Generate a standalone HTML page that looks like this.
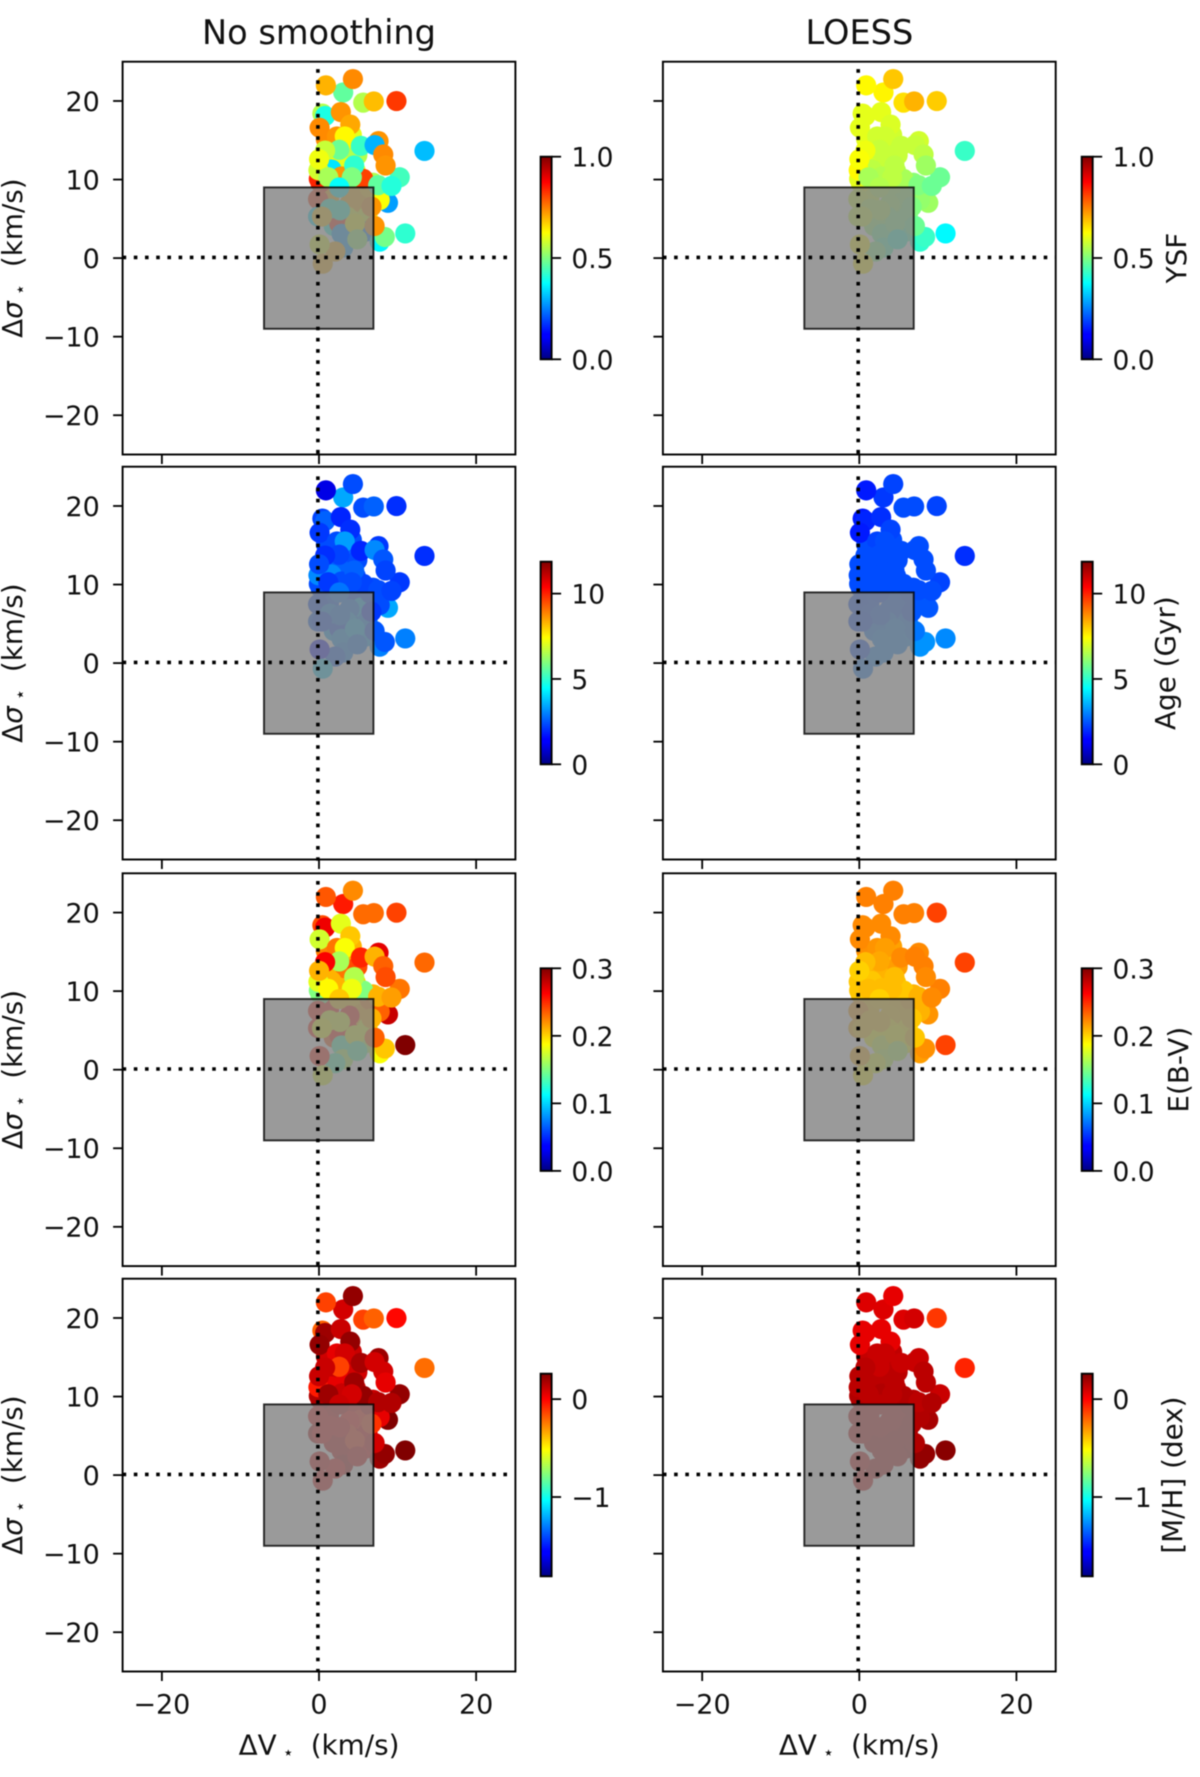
<!DOCTYPE html>
<html>
<head>
<meta charset="utf-8">
<title>Kinematic offset scatter panels</title>
<style>
html,body{margin:0;padding:0;background:#fff;}
#figure{display:block;width:1200px;height:1777px;filter:blur(0.55px);}
text{font-family:"DejaVu Sans","Liberation Sans",sans-serif;fill:#111;}
</style>
</head>
<body>
<svg id="figure" xmlns="http://www.w3.org/2000/svg" width="1200" height="1777" viewBox="0 0 1200 1777">
<defs>
<linearGradient id="jet" x1="0" y1="1" x2="0" y2="0">
<stop offset="0" stop-color="#000080"/>
<stop offset="0.11" stop-color="#0000ff"/>
<stop offset="0.125" stop-color="#0000ff"/>
<stop offset="0.375" stop-color="#00ffff"/>
<stop offset="0.625" stop-color="#ffff00"/>
<stop offset="0.875" stop-color="#ff0000"/>
<stop offset="1" stop-color="#800000"/>
</linearGradient>
</defs>
<text x="319" y="44" text-anchor="middle" font-size="33.6">No smoothing</text>
<text x="859.4" y="44" text-anchor="middle" font-size="33.6">LOESS</text>
<g id="plots"></g>
</svg>
<script>
// Shared point coordinates (km/s)
const deltaV = [3.6,1.0,2.0,3.2,4.8,7.0,2.0,5.0,4.3,1.8,3.5,5.0,1.7,3.0,4.5,1.0,5.5,4.0,6.3,1.4,3.7,0.1,0.3,0.0,6.6,0.0,2.0,5.75,2.7,6.1,3.0,3.2,2.2,4.7,7.85,8.5,7.2,11.1,8.9,7.85,6.8,10.4,7.65,9.35,3.2,4.44,1.0,5.75,7.1,9.98,0.55,0.9,2.9,4.1,0.2,2.4,3.4,7.7,5.45,7.2,2.7,13.55,0.9,0.05,0.13,1.3,8.3,8.6,4.6,4.3,2.7,1.5,2.8,0.5,5.0,0.2,0.6];
const deltaSigma = [14.3,15.0,11.8,11.5,11.0,9.5,9.2,5.6,15.6,13.0,12.8,13.0,11.2,10.3,8.5,8.8,7.0,6.8,5.3,7.5,5.2,10.0,9.5,7.4,8.8,5.2,4.0,10.0,4.3,3.3,3.0,1.25,0.75,4.3,2.0,2.6,4.0,3.05,6.95,7.3,6.45,10.2,9.2,9.1,21.0,22.7,21.9,19.7,19.85,19.9,18.3,18.0,18.5,16.9,16.5,15.4,15.4,14.8,14.2,14.3,13.7,13.55,13.6,11.1,12.5,10.2,13.1,11.7,11.7,10.2,8.9,6.2,6.0,5.2,2.3,1.65,-0.8];

// Colour values per panel
const ysfRaw = [.63,.74,.6,.63,.6,.55,.7,.6,.6,.63,.60,.55,.35,.73,.7,.7,.7,.7,.6,.7,.6,.84,.84,.82,.68,.35,.4,.81,.84,.25,.28,.28,.7,.62,.37,.49,.73,.42,.28,.62,.73,.44,.47,.41,.47,.74,.7,.55,.69,.82,.55,.4,.73,.71,.74,.73,.63,.73,.43,.3,.48,.31,.57,.58,.61,.54,.74,.73,.42,.5,.38,.42,.42,.68,.52,.6,.7];
const ysfLoess = [.57,.6,.57,.56,.55,.51,.56,.5,.58,.58,.57,.57,.56,.55,.53,.57,.52,.53,.5,.57,.5,.6,.6,.58,.52,.57,.52,.54,.52,.45,.48,.45,.5,.5,.42,.43,.48,.37,.53,.52,.5,.48,.5,.48,.635,.68,.63,.655,.7,.675,.6,.6,.6,.59,.6,.58,.58,.58,.57,.57,.57,.43,.61,.63,.62,.54,.56,.53,.56,.56,.55,.55,.55,.58,.42,.63,.64];
const ageRaw = [2.61,2.37,2.37,2.61,2.37,2.37,2.61,2.85,2.37,2.61,2.61,2.37,3.09,2.37,2.37,2.37,3.56,2.85,3.09,2.61,3.32,2.37,2.37,2.37,2.37,2.61,3.32,2.26,2.37,3.32,3.2,2.97,2.61,3.56,2.97,2.49,2.49,2.97,3.44,2.37,2.14,2.14,2.37,2.26,3.44,2.37,1.19,2.37,2.61,2.02,2.26,2.61,1.9,2.02,2.14,2.37,3.32,2.14,1.9,3.09,2.26,2.02,2.02,3.09,2.37,2.14,2.49,2.26,2.61,2.37,2.85,3.09,2.85,2.37,2.85,1.66,3.92];
const ageLoess = [2.37,2.37,2.37,2.37,2.37,2.37,2.37,2.61,2.37,2.37,2.37,2.37,2.37,2.37,2.61,2.37,2.61,2.61,2.85,2.49,2.85,2.37,2.37,2.37,2.49,2.37,2.85,2.37,2.85,3.09,2.97,2.97,2.97,2.97,3.2,3.2,2.85,3.09,2.49,2.49,2.49,2.26,2.37,2.37,2.14,2.26,1.78,2.37,2.37,2.26,1.78,1.9,2.02,2.26,1.78,2.26,2.37,2.37,2.37,2.37,2.37,2.02,2.37,2.37,2.37,2.37,2.37,2.37,2.37,2.37,2.37,2.49,2.61,2.37,2.97,2.37,2.85];
const ebvRaw = [.21,.225,.19,.21,.2,.21,.2,.2,.21,.21,.228,.24,.21,.21,.204,.204,.21,.255,.18,.255,.255,.15,.15,.255,.225,.255,.24,.15,.255,.165,.135,.165,.135,.18,.186,.204,.234,.3,.279,.234,.21,.228,.21,.216,.255,.222,.237,.231,.231,.243,.24,.267,.18,.204,.174,.228,.186,.27,.252,.21,.162,.232,.264,.18,.21,.189,.234,.24,.165,.183,.204,.18,.18,.186,.138,.255,.18];
const ebvLoess = [.21,.22,.205,.205,.205,.21,.205,.19,.215,.21,.21,.216,.204,.207,.204,.204,.204,.201,.192,.204,.192,.204,.204,.216,.21,.21,.186,.204,.186,.186,.174,.168,.18,.186,.216,.22,.204,.243,.219,.21,.204,.225,.21,.222,.225,.225,.225,.225,.225,.243,.222,.222,.222,.222,.222,.219,.216,.222,.222,.225,.213,.243,.207,.204,.201,.207,.225,.222,.207,.207,.201,.204,.204,.204,.165,.21,.192];
const mhRaw = [.11,.1,.11,.11,.11,.11,.11,.1,.11,.11,.05,.09,.05,.11,.05,.11,-.05,-.02,.05,.09,-.08,.16,.16,.05,.11,.16,.11,.22,.11,.05,.11,.16,.05,-.08,.2,.22,.09,.26,.26,.05,-.1,.22,.16,.16,.09,.22,-.13,-.13,-.195,-.01,-.195,.2,.11,.22,.22,.05,.09,.2,.18,.09,-.13,-.22,.11,-.05,.11,.2,.09,.05,.2,.09,.11,.05,.05,.05,.09,.09,.09];
const mhLoess = [.13,.12,.14,.14,.14,.15,.14,.15,.13,.14,.14,.14,.14,.16,.14,.14,.14,.14,.16,.14,.14,.16,.16,.14,.16,.14,.16,.16,.16,.18,.16,.16,.16,.16,.22,.22,.16,.24,.18,.16,.16,.11,.14,.16,.07,.05,.07,.07,.09,-.11,.05,.05,.05,.05,.05,.11,.11,.11,.11,.11,.11,-.07,.14,.14,.14,.14,.14,.14,.14,.14,.14,.14,.14,.14,.16,.11,.11];

// Axis tick labels
const axisTicks = [-20,-10,0,10,20];
const xAxisTicks = [-20,0,20];

// Colour ranges and colourbar ticks per row
const rowNames = ['ysf','age','ebv','mh'];
const rowMin = [0,0,0,-1.81];
const rowMax = [1,11.87,0.3,0.26];
const rowBarTicks = [[0,0.5,1],[0,5,10],[0,0.1,0.2,0.3],[-1,0]];
const rowBarLabels = [['0.0','0.5','1.0'],['0','5','10'],['0.0','0.1','0.2','0.3'],['\u22121','0']];
const rowTitles = ['YSF','Age (Gyr)','E(B-V)','[M/H] (dex)'];
const rowValues = [[ysfRaw,ysfLoess],[ageRaw,ageLoess],[ebvRaw,ebvLoess],[mhRaw,mhLoess]];

// Layout
const panelTops = [61.7,466.7,873.3,1278.7];
const colLefts = [122.6,662.9];
const barLefts = [540.6,1081.7];
const colNames = ['raw','loess'];
const rowTitleX = [1177,1166,1179,1173];
const vDotStart = [7.4,9.7,7.7,9.4];
const PW = 392.8;
const SCALE = PW / 50;
const SVGNS = 'http://www.w3.org/2000/svg';
const plots = document.getElementById('plots');

function mk(tag, parent, attrs) {
  const el = document.createElementNS(SVGNS, tag);
  for (const k in attrs) el.setAttribute(k, attrs[k]);
  parent.appendChild(el);
  return el;
}
function jet(t) {
  t = Math.max(0, Math.min(1, t));
  const clip = v => Math.round(255 * Math.max(0, Math.min(1, v)));
  const r = Math.min(4 * t - 1.5, -4 * t + 4.5);
  const g = Math.min(4 * t - 0.5, -4 * t + 3.5);
  const b = Math.min(4 * t + 0.5, -4 * t + 2.5);
  return 'rgb(' + clip(r) + ',' + clip(g) + ',' + clip(b) + ')';
}

rowNames.forEach(function (rowName, r) {
  colNames.forEach(function (colName, c) {
    const L = colLefts[c], T = panelTops[r];
    const xScale = v => L + PW / 2 + v * SCALE;
    const yScale = v => T + PW / 2 - v * SCALE;
    const prefix = rowName + '-' + colName;
    const g = mk('g', plots, {});
    
    

    // scatter points
    const vals = rowValues[r][c];
    const pts = mk('g', g, {});
    
    
    deltaV.forEach(function (dv, i) {
      const t = (vals[i] - rowMin[r]) / (rowMax[r] - rowMin[r]);
      const pt = mk('circle', pts, {cx: xScale(dv) - 0.95, cy: yScale(deltaSigma[i]) - 0.7, r: 10.1, fill: jet(t)});
      
      
    });

    // grey box
    const box = mk('rect', g, {x: xScale(-7), y: yScale(9), width: xScale(6.93) - xScale(-7), height: 18 * SCALE,
      fill: '#868686', 'fill-opacity': 0.83, stroke: '#000', 'stroke-opacity': 0.8, 'stroke-width': 1.9});
    
    

    // dotted reference lines
    const hl = mk('line', g, {x1: L, x2: L + PW, y1: yScale(0) - 0.7, y2: yScale(0) - 0.7,
      stroke: '#000', 'stroke-width': 3.6, 'stroke-dasharray': '3.6 7.6'});
    
    
    const vl = mk('line', g, {x1: xScale(0) - 1.1, x2: xScale(0) - 1.1, y1: T + vDotStart[r], y2: T + PW + 2,
      stroke: '#000', 'stroke-width': 3.6, 'stroke-dasharray': '3.6 7.6'});
    
    

    // frame
    const frame = mk('rect', g, {x: L, y: T, width: PW, height: PW, fill: 'none', stroke: '#000', 'stroke-width': 1.9});
    
    

    // y ticks
    axisTicks.forEach(function (v) {
      const tk = mk('line', g, {x1: L - 9.5, x2: L, y1: yScale(v), y2: yScale(v), stroke: '#000', 'stroke-width': 1.8});
      
      
      if (c === 0) {
        const lb = mk('text', g, {x: L - 22.8, y: yScale(v) + 9.9, 'text-anchor': 'end', 'font-size': 27});
        lb.textContent = (v < 0 ? '\u2212' : '') + Math.abs(v);
        
        
      }
    });

    // x ticks
    xAxisTicks.forEach(function (v) {
      const tk = mk('line', g, {x1: xScale(v), x2: xScale(v), y1: T + PW, y2: T + PW + 9.5, stroke: '#000', 'stroke-width': 1.8});
      
      
      if (r === 3) {
        const lb = mk('text', g, {x: xScale(v), y: T + PW + 41.8, 'text-anchor': 'middle', 'font-size': 27});
        lb.textContent = (v < 0 ? '\u2212' : '') + Math.abs(v);
        
        
      }
    });

    // y label
    if (c === 0) {
      const yl = mk('text', g, {'text-anchor': 'middle', 'font-size': 27.8,
        transform: 'translate(22,' + (T + PW / 2) + ') rotate(-90)'});
      
      
      mk('tspan', yl, {}).textContent = '\u0394';
      mk('tspan', yl, {'font-style': 'italic'}).textContent = '\u03c3';
      mk('tspan', yl, {'font-size': 18, dy: 4, dx: 6}).textContent = '\u22c6';
      mk('tspan', yl, {dy: -4, dx: 8}).textContent = ' (km/s)';
    }

    // x label
    if (r === 3) {
      const xl = mk('text', g, {x: xScale(0), y: T + PW + 83, 'text-anchor': 'middle', 'font-size': 27.8});
      
      
      mk('tspan', xl, {}).textContent = '\u0394V';
      mk('tspan', xl, {'font-size': 18, dy: 4, dx: 6}).textContent = '\u22c6';
      mk('tspan', xl, {dy: -4, dx: 8}).textContent = ' (km/s)';
    }

    // colourbar
    const BL = barLefts[c], BW = 11, BT = T + 95, BH = 202.6;
    const barY = v => BT + BH - (v - rowMin[r]) / (rowMax[r] - rowMin[r]) * BH;
    const cb = mk('g', g, {});
    
    
    mk('rect', cb, {x: BL, y: BT, width: BW, height: BH, fill: 'url(#jet)', stroke: '#000', 'stroke-width': 1.9});
    rowBarTicks[r].forEach(function (v, i) {
      const tk = mk('line', cb, {x1: BL + BW, x2: BL + BW + 9.5, y1: barY(v), y2: barY(v), stroke: '#000', 'stroke-width': 1.8});
      
      
      const lb = mk('text', cb, {x: BL + BW + 19.8, y: barY(v) + 10, 'font-size': 26.5});
      lb.textContent = rowBarLabels[r][i];
      
      
    });
    if (c === 1) {
      const ct = mk('text', cb, {'text-anchor': 'middle', 'font-size': 27.8,
        transform: 'translate(' + (rowTitleX[r] + 9) + ',' + (T + PW / 2) + ') rotate(-90)'});
      ct.textContent = rowTitles[r];
      
      
    }
  });
});
</script>
</body>
</html>
